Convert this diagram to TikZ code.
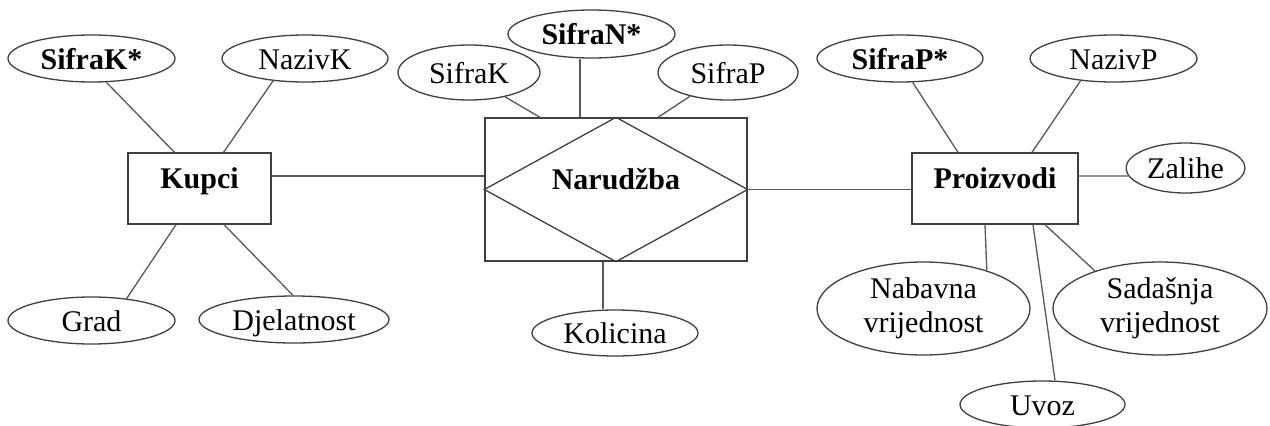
\documentclass[tikz,border=0pt]{standalone}
\usepackage{fontspec}
\setmainfont{Liberation Serif}
\usetikzlibrary{shapes.geometric}
\begin{document}
\begin{tikzpicture}[x=1pt,y=-1pt,
  txt/.style={font=\fontsize{30}{34}\selectfont, inner sep=0pt, text=black},
  attr/.style={txt, ellipse, draw=black!75, line width=1.3pt, text height=21pt, text depth=0pt},
  keyattr/.style={attr, font=\fontsize{30}{34}\selectfont\bfseries},
  attrtwo/.style={txt, ellipse, draw=black!75, line width=1.3pt, align=center},
  entity/.style={txt, rectangle, draw=black!75, line width=1.3pt, font=\fontsize{30}{34}\selectfont\bfseries, text height=20pt, text depth=20pt},
  conn/.style={draw=black!65, line width=1.3pt}]
\path[use as bounding box, fill=white] (0,0) rectangle (1270,426);

% entities
\node[entity, minimum width=143pt, minimum height=71pt] (kupci) at (199.5,188.5) {Kupci};
\node[entity, minimum width=262pt, minimum height=143pt] (nar) at (616,189.5) {Narudžba};
\node[entity, minimum width=166pt, minimum height=71pt] (pro) at (995,188.5) {Proizvodi};
\draw[draw=black!75, line width=1.3pt] (nar.west) -- (nar.north) -- (nar.east) -- (nar.south) -- cycle;

% Kupci attributes
\node[keyattr, minimum width=167pt, minimum height=47pt] (skstar) at (91.5,58.5) {SifraK*};
\node[attr, minimum width=166pt, minimum height=47pt] (nazk) at (305,58.5) {NazivK};
\node[attr, minimum width=167pt, minimum height=47pt] (grad) at (91.5,320.5) {Grad};
\node[attr, minimum width=190pt, minimum height=47pt] (djel) at (294,319.5) {Djelatnost};

% Narudzba attributes
\node[keyattr, minimum width=167pt, minimum height=48pt] (snstar) at (591.5,34) {SifraN*};
\node[attr, minimum width=142pt, minimum height=55pt] (skn) at (469,72.5) {SifraK};
\node[attr, minimum width=140pt, minimum height=55pt] (spn) at (728,72.5) {SifraP};
\node[attr, minimum width=166pt, minimum height=46pt] (kol) at (615,333) {Kolicina};

% Proizvodi attributes
\node[keyattr, minimum width=166pt, minimum height=47pt] (spstar) at (900,58.5) {SifraP*};
\node[attr, minimum width=167pt, minimum height=47pt] (nazp) at (1113.5,58.5) {NazivP};
\node[attr, minimum width=119pt, minimum height=50pt] (zal) at (1185.5,168) {Zalihe};
\node[attrtwo, minimum width=213pt, minimum height=93pt] (nab) at (923.5,308.5) {Nabavna\\vrijednost};
\node[attrtwo, minimum width=214pt, minimum height=93pt] (sad) at (1160,308.5) {Sadašnja\\vrijednost};
\node[attr, minimum width=165pt, minimum height=47pt] (uvoz) at (1042.5,404.5) {Uvoz};

% connectors: Kupci
\draw[conn] (skstar.-58.5) -- ([xshift=-25pt]kupci.north);
\draw[conn] (nazk.-145) -- ([xshift=24pt]kupci.north);
\draw[conn] (grad.32) -- ([xshift=-23.5pt]kupci.south);
\draw[conn] ([xshift=-1pt]djel.north) -- ([xshift=24.5pt]kupci.south);
\draw[conn] ([yshift=12.5pt]kupci.east) -- ([yshift=12.5pt]kupci.east -| nar.west);

% connectors: Narudzba
\draw[conn] ([xshift=-11.5pt]snstar.south) -- ([xshift=-36pt]nar.north);
\draw[conn] (skn.-34.2) -- ([xshift=-76pt]nar.north);
\draw[conn] (spn.-148.3) -- ([xshift=42pt]nar.north);
\draw[conn] ([xshift=-13pt]nar.south) -- ([xshift=-12pt]kol.north);
\draw[conn] (nar.east) -- (nar.east -| pro.west);

% connectors: Proizvodi
\draw[conn] (spstar.-62) -- ([xshift=-37pt]pro.north);
\draw[conn] (nazp.-146) -- ([xshift=37pt]pro.north);
\draw[conn] ([yshift=12.5pt]pro.east) -- (zal.-172);
\draw[conn] ([xshift=-10pt]pro.south) -- (nab.31.7);
\draw[conn] ([xshift=38pt]pro.south) -- ([xshift=12.5pt]uvoz.north);
\draw[conn] ([xshift=50pt]pro.south) -- (sad.150);
\end{tikzpicture}
\end{document}
